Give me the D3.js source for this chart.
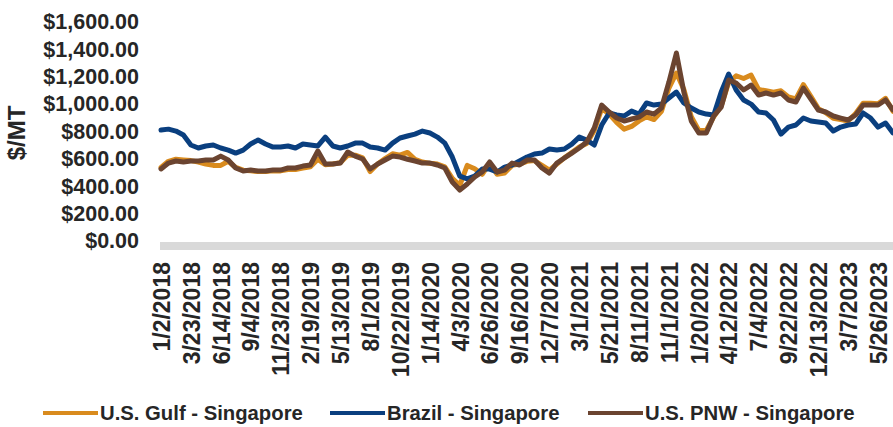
<!DOCTYPE html>
<html>
<meta charset="utf-8">
<head>
<script src="https://d3js.org/d3.v7.min.js"></script>
<style>
  body { margin: 0; background: #fff; }
  text { font-family: "Liberation Sans", Arial, sans-serif; font-weight: bold; fill: #262626; }
</style>
</head>
<body>
<div id="chart"></div>
<script>
// tick labels on the category axis, one every 4 samples
var tickLabels = ["1/2/2018","3/23/2018","6/14/2018","9/4/2018","11/23/2018","2/19/2019","5/13/2019",
  "8/1/2019","10/22/2019","1/14/2020","4/3/2020","6/26/2020","9/16/2020","12/7/2020","3/1/2021",
  "5/21/2021","8/11/2021","11/1/2021","1/20/2022","4/12/2022","7/4/2022","9/22/2022","12/13/2022",
  "3/7/2023","5/26/2023"];
var samplesPerLabel = 4;

var seriesNames = ["U.S. Gulf - Singapore", "Brazil - Singapore", "U.S. PNW - Singapore"];
var seriesColors = ["#D98B1E", "#0A3F7F", "#6B4430"];

// $/MT
var gulf = [530,575,590,585,580,570,555,545,545,575, 530,510,505,500,500,505,505,515,515,525,
  535,590,550,555,565,620,620,600,500,555, 595,630,620,640,590,570,560,555,535,450,
  400,545,520,480,560,480,490,545,555,575, 580,545,510,555,600,640,680,705,800,960,
  920,860,810,830,870,900,880,940,1110,1220, 1100,900,800,800,900,980,1150,1200,1180,1205,
  1100,1090,1080,1090,1045,1030,1135,1050,960,930, 890,880,870,925,1000,1000,995,1035,940];
var brazil = [803,810,796,767,694,672,687,694,672,657, 635,657,701,730,701,679,679,687,672,701,
  694,687,752,687,672,687,708,708,679,672, 657,708,745,760,774,796,782,752,708,606,
  467,446,467,518,518,497,533,548,577,606, 628,635,665,657,665,701,752,730,694,840,
  928,913,906,942,920,1001,986,993,1037,1081, 1001,964,935,920,913,1081,1213,1096,1023,993,
  935,928,877,774,825,840,891,869,862,855, 796,825,840,847,928,891,825,855,782];
var pnw = [519,562,577,570,577,577,584,584,613,584, 526,504,511,504,504,511,511,526,526,540,
  548,650,555,555,562,643,613,592,519,555, 584,613,606,590,577,562,562,548,526,424,
  365,409,460,497,570,497,511,562,548,584, 584,526,489,562,599,635,672,716,818,986,
  935,891,869,884,898,935,920,964,1154,1366, 1081,869,782,782,906,971,1169,1147,1096,1132,
  1059,1074,1059,1074,1023,1008,1110,1030,950,935, 906,891,877,913,986,986,986,1023,950];

var yTicks = [0,200,400,600,800,1000,1200,1400,1600];

var W = 893, H = 427;
var svg = d3.select("#chart").append("svg").attr("width", W).attr("height", H);

var n = gulf.length;
var x = d3.scaleLinear().domain([0, n - 1]).range([161, 893]);
var y = d3.scaleLinear().domain([0, 1600]).range([240, 21]);

// y axis labels
var yAxis = svg.append("g")
  .attr("transform", "translate(139,0)")
  .call(d3.axisLeft(y).tickValues(yTicks).tickSize(0).tickPadding(0)
    .tickFormat(function(d) { return "$" + d3.format(",.2f")(d); }));
yAxis.select(".domain").remove();
yAxis.selectAll("text").style("font-size", "21.5px").attr("dy", "0.36em");

svg.append("text")
  .attr("transform", "translate(25,133) rotate(-90)")
  .attr("text-anchor", "middle")
  .style("font-size", "24px")
  .text("$/MT");

// x axis: thick grey bar + rotated date labels
var tickIdx = tickLabels.map(function(d, i) { return i * samplesPerLabel; });
var xAxis = svg.append("g")
  .attr("transform", "translate(0,246)")
  .call(d3.axisBottom(x).tickValues(tickIdx).tickSize(0)
    .tickFormat(function(d) { return tickLabels[d / samplesPerLabel]; }));
xAxis.select(".domain")
  .attr("d", "M160,0H893")
  .attr("stroke", "#D9D9D9")
  .attr("stroke-width", 8);
xAxis.selectAll("text")
  .style("font-size", "23px")
  .attr("transform", "rotate(-90)")
  .attr("x", -16)
  .attr("y", 0)
  .attr("dy", "0.36em")
  .style("text-anchor", "end");

// lines
var line = d3.line()
  .x(function(d, i) { return x(i); })
  .y(function(d) { return y(d); });

[gulf, brazil, pnw].forEach(function(s, k) {
  svg.append("path")
    .datum(s)
    .attr("fill", "none")
    .attr("stroke", seriesColors[k])
    .attr("stroke-width", 5)
    .attr("stroke-linejoin", "round")
    .attr("stroke-linecap", "round")
    .attr("d", line);
});

// legend
var legendX = [43, 330, 588];
var legend = svg.append("g").attr("transform", "translate(0,413)");
seriesNames.forEach(function(name, k) {
  legend.append("line")
    .attr("x1", legendX[k]).attr("x2", legendX[k] + 55)
    .attr("y1", 0).attr("y2", 0)
    .attr("stroke", seriesColors[k])
    .attr("stroke-width", 4);
  legend.append("text")
    .attr("x", legendX[k] + 57)
    .attr("y", 0)
    .attr("dy", "0.36em")
    .style("font-size", "20.3px")
    .text(name);
});
</script>
</body>
</html>
